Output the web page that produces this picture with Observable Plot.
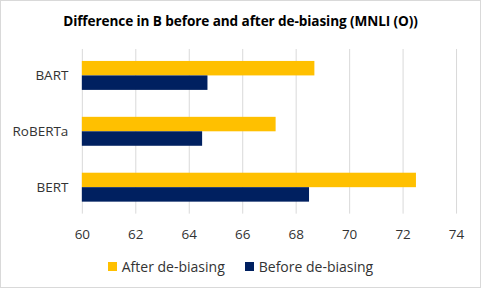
<!DOCTYPE html>
<html>
<head>
<meta charset="utf-8">
<script src="https://cdn.jsdelivr.net/npm/d3@7"></script>
<script src="https://cdn.jsdelivr.net/npm/@observablehq/plot@0.6"></script>
<style>
  html, body { margin: 0; padding: 0; background: #fff; }
  #frame { position: relative; width: 479px; height: 286px; border: 1px solid #d9d9d9; background: #fff; font-family: "Open Sans", "Liberation Sans", sans-serif; overflow: hidden; }
  #title { position: absolute; top: 10px; left: 0; width: 479px; text-align: center; font-weight: bold; font-size: 13.6px; color: #000; letter-spacing: -0.1px; }
  #chart { position: absolute; top: 35px; left: -1px; }
  #legend { position: absolute; top: 256px; left: 0; width: 479px; display: flex; justify-content: center; gap: 20px; font-size: 14px; color: #333; }
  .item { display: flex; align-items: center; gap: 5px; }
  .sw { width: 9px; height: 9px; display: inline-block; }
</style>
</head>
<body>
<div id="frame">
  <div id="title">Difference in B before and after de-biasing (MNLI (O))</div>
  <div id="chart"></div>
  <div id="legend"></div>
</div>
<script>
const models = ["BART", "RoBERTa", "BERT"];
const afterValues = [68.7, 67.25, 72.5];
const beforeValues = [64.7, 64.5, 68.5];
const seriesNames = ["After de-biasing", "Before de-biasing"];
const seriesColors = ["#FFC000", "#002060"];
const xTicks = [60, 62, 64, 66, 68, 70, 72, 74];

const afterData = models.map((m, i) => ({model: m, value: afterValues[i], series: seriesNames[0]}));
const beforeData = models.map((m, i) => ({model: m, value: beforeValues[i], series: seriesNames[1]}));

const chart = Plot.plot({
  width: 481,
  height: 215,
  marginTop: 13,
  marginBottom: 37,
  marginLeft: 82,
  marginRight: 24,
  style: {fontFamily: "'Open Sans', 'Liberation Sans', sans-serif", fontSize: "13.5px", color: "#333", background: "transparent"},
  x: {domain: [60, 74], ticks: xTicks, tickSize: 0, tickPadding: 15, label: null, grid: false},
  y: {domain: models, paddingInner: 0.48, paddingOuter: 0.21, tickSize: 0, tickPadding: 14, label: null},
  color: {domain: seriesNames, range: seriesColors},
  marks: [
    Plot.ruleX(xTicks, {stroke: "#d9d9d9", strokeWidth: 1}),
    Plot.barX(afterData, {x1: 60, x2: "value", y: "model", fill: "series", insetBottom: 14.5}),
    Plot.barX(beforeData, {x1: 60, x2: "value", y: "model", fill: "series", insetTop: 14.5})
  ]
});
document.getElementById("chart").appendChild(chart);

const legend = document.getElementById("legend");
seriesNames.forEach((name, i) => {
  const item = document.createElement("div");
  item.className = "item";
  const sw = document.createElement("span");
  sw.className = "sw";
  sw.style.background = seriesColors[i];
  const t = document.createElement("span");
  t.textContent = name;
  item.appendChild(sw);
  item.appendChild(t);
  legend.appendChild(item);
});
</script>
</body>
</html>
